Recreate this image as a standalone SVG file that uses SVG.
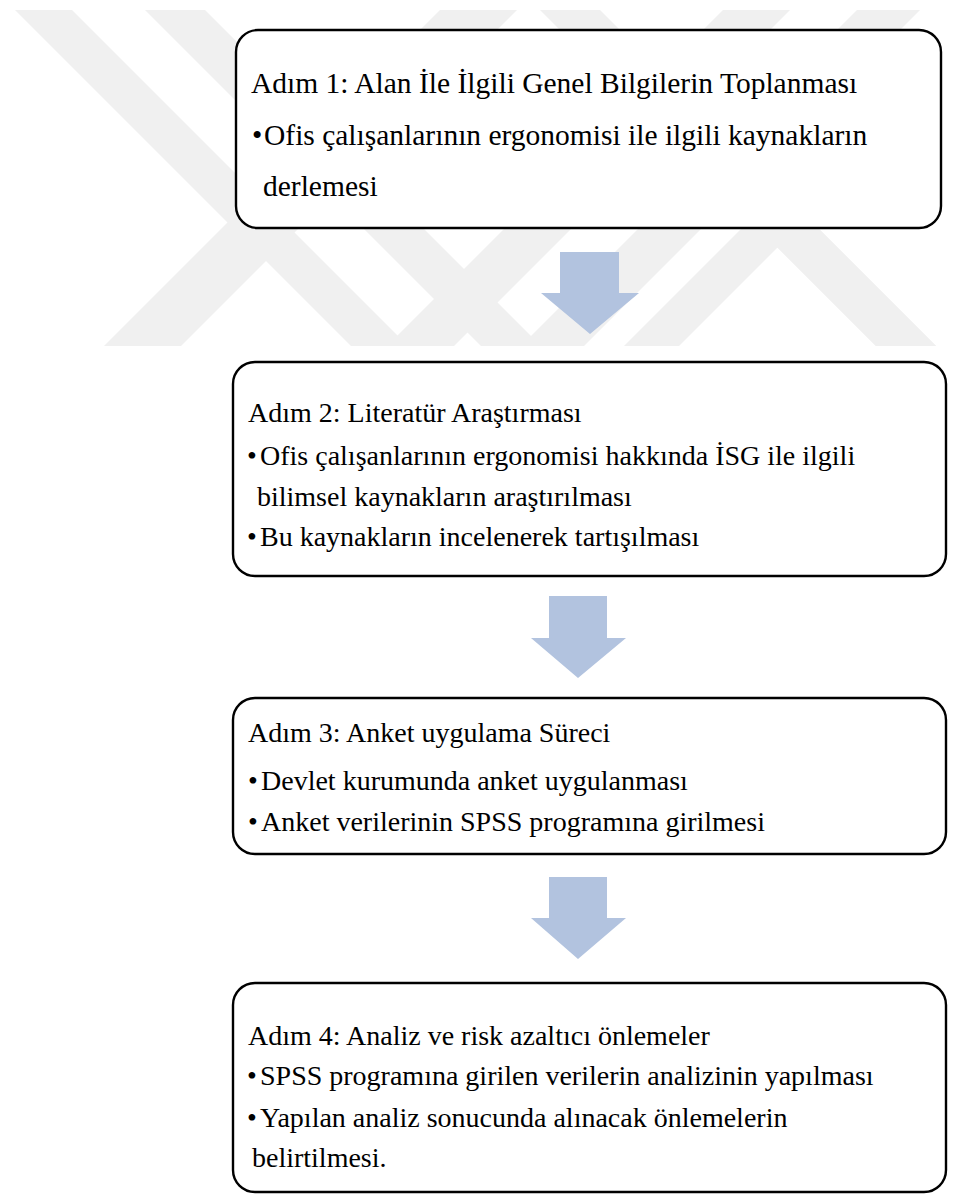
<svg xmlns="http://www.w3.org/2000/svg" width="980" height="1199" viewBox="0 0 980 1199">
<style>
.box{fill:#fff;stroke:#000;stroke-width:2.4}
text{font-family:'Liberation Serif','Times New Roman',serif;font-size:28px;fill:#000}
.b1 text{font-size:29.5px}
.arrow{fill:#b2c3df}
.wm{fill:#f0f0f0}
</style>
<defs>
<clipPath id="wmclip"><rect x="0" y="10" width="980" height="336"/></clipPath>
</defs>
<rect width="980" height="1199" fill="#fff"/>
<g id="watermark" clip-path="url(#wmclip)">
<polygon class="wm" points="15,10 72,10 432,370 375,370"/>
<polygon class="wm" points="145,10 205,10 565,370 505,370"/>
<polygon class="wm" points="540,10 600,10 960,370 900,370"/>
<polygon class="wm" points="440,10 517,10 157,370 80,370"/>
<polygon class="wm" points="723,10 790,10 430,370 363,370"/>
<polygon class="wm" points="857,10 920,10 560,370 497,370"/>
<polygon class="wm" points="770,200 825,200 655,370 600,370"/>
<polygon class="wm" points="730,200 790,200 960,370 900,370"/>
</g>
<g id="connectors">
<polygon class="arrow" points="560,252 619,252 619,293 639,293 590,334 541,293 560,293"/>
<polygon class="arrow" points="549,596 607,596 607,638 626,638 578,678 531,638 549,638"/>
<polygon class="arrow" points="549,877 607,877 607,918 626,918 578,959 531,918 549,918"/>
</g>
<g id="step1" class="b1" font-family="Liberation Serif, serif">
<rect class="box" x="236" y="30" width="705" height="198" rx="22"/>
<text x="251" y="93">Adım 1: Alan İle İlgili Genel Bilgilerin Toplanması</text>
<text x="252" y="145">•</text><text x="264" y="145">Ofis çalışanlarının ergonomisi ile ilgili kaynakların</text>
<text x="263" y="196">derlemesi</text>
</g>
<g id="step2" font-family="Liberation Serif, serif">
<rect class="box" x="233" y="362" width="713" height="214" rx="22"/>
<text x="248" y="422">Adım 2: Literatür Araştırması</text>
<text x="247" y="465">•</text><text x="260" y="465">Ofis çalışanlarının ergonomisi hakkında İSG ile ilgili</text>
<text x="257" y="506">bilimsel kaynakların araştırılması</text>
<text x="247" y="546">•</text><text x="260" y="546">Bu kaynakların incelenerek tartışılması</text>
</g>
<g id="step3" font-family="Liberation Serif, serif">
<rect class="box" x="233" y="698" width="713" height="156" rx="22"/>
<text x="248" y="742">Adım 3: Anket uygulama Süreci</text>
<text x="248" y="790">•</text><text x="261" y="790">Devlet kurumunda anket uygulanması</text>
<text x="248" y="831">•</text><text x="261" y="831">Anket verilerinin SPSS programına girilmesi</text>
</g>
<g id="step4" font-family="Liberation Serif, serif">
<rect class="box" x="233" y="983" width="713" height="209" rx="22"/>
<text x="248" y="1045">Adım 4: Analiz ve risk azaltıcı önlemeler</text>
<text x="247" y="1085">•</text><text x="260" y="1085">SPSS programına girilen verilerin analizinin yapılması</text>
<text x="247" y="1127">•</text><text x="260" y="1127">Yapılan analiz sonucunda alınacak önlemelerin</text>
<text x="252" y="1167">belirtilmesi.</text>
</g>
</svg>
